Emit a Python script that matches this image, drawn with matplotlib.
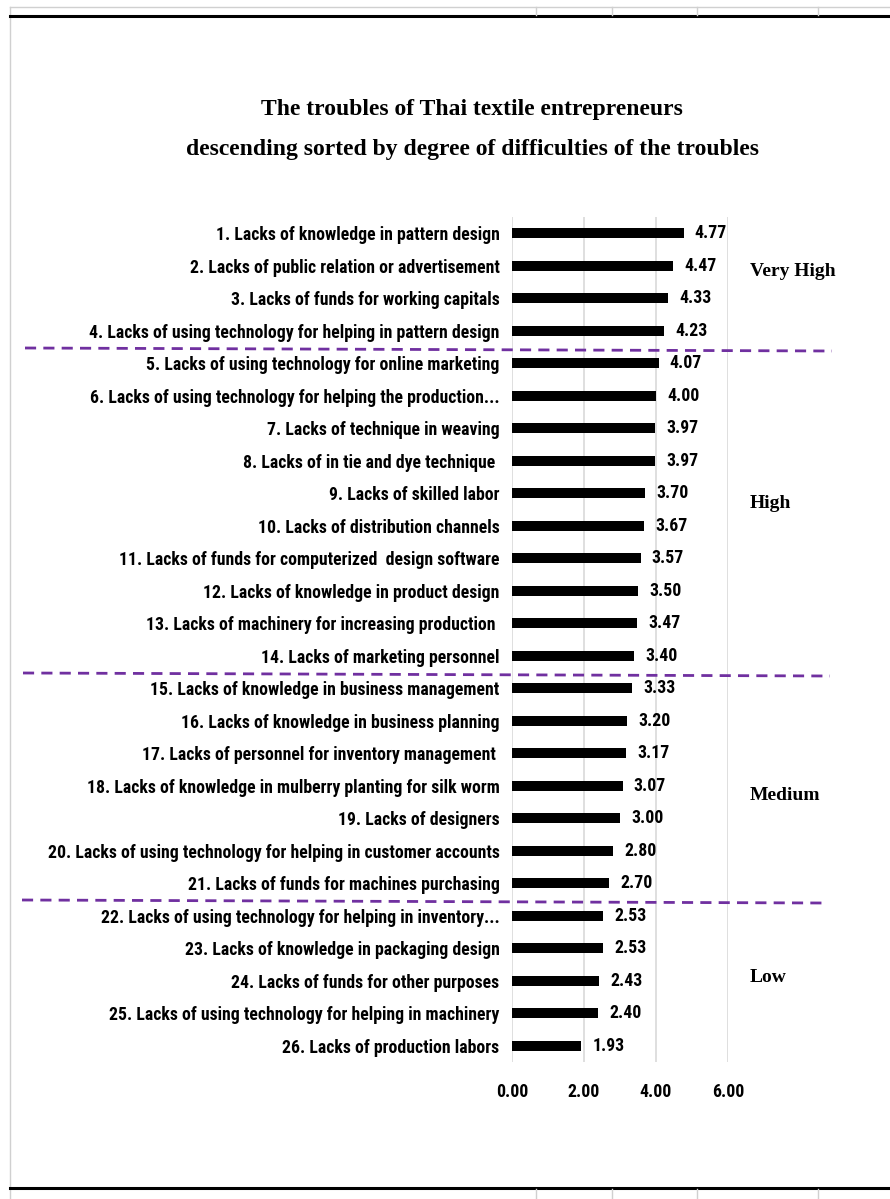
#!/usr/bin/env python3
"""
Troubles of Thai textile entrepreneurs - horizontal bar chart.
"""
import matplotlib
matplotlib.use('Agg')
import matplotlib.pyplot as plt
from matplotlib import font_manager
from matplotlib.lines import Line2D

troubles = [
    '1. Lacks of knowledge in pattern design',
    '2. Lacks of public relation or advertisement',
    '3. Lacks of funds for working capitals',
    '4. Lacks of using technology for helping in pattern design',
    '5. Lacks of using technology for online marketing',
    '6. Lacks of using technology for helping the production...',
    '7. Lacks of technique in weaving',
    '8. Lacks of in tie and dye technique ',
    '9. Lacks of skilled labor',
    '10. Lacks of distribution channels',
    '11. Lacks of funds for computerized  design software',
    '12. Lacks of knowledge in product design',
    '13. Lacks of machinery for increasing production ',
    '14. Lacks of marketing personnel',
    '15. Lacks of knowledge in business management',
    '16. Lacks of knowledge in business planning',
    '17. Lacks of personnel for inventory management ',
    '18. Lacks of knowledge in mulberry planting for silk worm',
    '19. Lacks of designers',
    '20. Lacks of using technology for helping in customer accounts',
    '21. Lacks of funds for machines purchasing',
    '22. Lacks of using technology for helping in inventory...',
    '23. Lacks of knowledge in packaging design',
    '24. Lacks of funds for other purposes',
    '25. Lacks of using technology for helping in machinery',
    '26. Lacks of production labors',
]
scores = [4.77, 4.47, 4.33, 4.23, 4.07, 4.00, 3.97, 3.97, 3.70, 3.67,
          3.57, 3.50, 3.47, 3.40, 3.33, 3.20, 3.17, 3.07, 3.00, 2.80,
          2.70, 2.53, 2.53, 2.43, 2.40, 1.93]
x_ticks = [0, 2, 4, 6]
levels = ['Very High', 'High', 'Medium', 'Low']

W, H = 890, 1199
names = {f.name for f in font_manager.fontManager.ttflist}
sans = 'DejaVu Sans'
for cand in ['Liberation Sans Narrow', 'DejaVu Sans Condensed', 'Roboto Condensed',
             'Open Sans Condensed', 'Noto Sans', 'Liberation Sans']:
    if cand in names:
        sans = cand
        break
serif = 'Liberation Serif'

fig = plt.figure(figsize=(W / 100, H / 100), dpi=100)
fig.patch.set_facecolor('white')
renderer = fig.canvas.get_renderer()


def fit_size(text, family, target_px, weight='bold'):
    # font size that gives the text the width measured on the reference
    t = fig.text(0, 0, text, fontfamily=family, fontweight=weight, fontsize=10)
    w = t.get_window_extent(renderer).width
    t.remove()
    return 10 * target_px / w


lab_size = fit_size(troubles[0], sans, 284)
num_size = lab_size

# plot area (pixel coords from the reference)
ax = fig.add_axes([512 / W, 1 - 1062 / H, (728 - 512) / W, (1062 - 217) / H])
y = list(range(len(scores)))
bars = ax.barh(y, scores, height=0.32, color='black', zorder=3)
ax.set_xlim(0, 6)
ax.set_ylim(len(scores) - 0.5, -0.5)
ax.set_yticks(y)
ax.set_yticklabels(troubles, fontfamily=sans, fontweight='bold', fontsize=lab_size)
ax.set_xticks(x_ticks)
ax.set_xticklabels([f'{t:.2f}' for t in x_ticks], fontfamily=sans,
                   fontweight='bold', fontsize=num_size)
ax.tick_params(axis='y', length=0, pad=9)
ax.tick_params(axis='x', length=0, pad=15)
ax.grid(axis='x', color='#d9d9d9', linewidth=1.2, zorder=0)
for s in ax.spines.values():
    s.set_visible(False)
ax.bar_label(bars, labels=[f'{v:.2f}' for v in scores], padding=8,
             fontfamily=sans, fontweight='bold', fontsize=num_size)

# title
fig.text(472 / W, 1 - 109 / H, 'The troubles of Thai textile entrepreneurs',
         ha='center', va='center', fontfamily=serif, fontweight='bold', fontsize=17)
fig.text(472 / W, 1 - 149 / H, 'descending sorted by degree of difficulties of the troubles',
         ha='center', va='center', fontfamily=serif, fontweight='bold', fontsize=17)

# level labels
for lab, ypix in zip(levels, [272, 503, 795, 977]):
    fig.text(750 / W, 1 - ypix / H, lab, ha='left', va='center',
             fontfamily=serif, fontweight='bold', fontsize=14)

# purple dashed separators
for x0, y0, x1, y1 in [(25, 348, 832, 351), (23, 673, 830, 676), (22, 900, 822, 903)]:
    fig.add_artist(Line2D([x0 / W, x1 / W], [1 - y0 / H, 1 - y1 / H],
                          transform=fig.transFigure, color='#7030A0',
                          linewidth=2, linestyle=(0, (4, 2.6))))

# sheet frame around the chart
fig.add_artist(Line2D([10 / W, 10 / W], [0, 1 - 7 / H], transform=fig.transFigure,
                      color='#d0d0d0', linewidth=1))
fig.add_artist(Line2D([10 / W, 1], [1 - 7 / H, 1 - 7 / H], transform=fig.transFigure,
                      color='#d0d0d0', linewidth=1))
for yb in [16, 1188]:
    fig.add_artist(Line2D([10 / W, 1], [1 - yb / H, 1 - yb / H], transform=fig.transFigure,
                          color='black', linewidth=2.2))
for xc in [536, 612, 697, 818]:
    fig.add_artist(Line2D([xc / W, xc / W], [1 - 7 / H, 1 - 15 / H], transform=fig.transFigure,
                          color='#d0d0d0', linewidth=1))
    fig.add_artist(Line2D([xc / W, xc / W], [1 - 1189 / H, 0], transform=fig.transFigure,
                          color='#d0d0d0', linewidth=1))

plt.savefig('out.png', dpi=100)
plt.close()
